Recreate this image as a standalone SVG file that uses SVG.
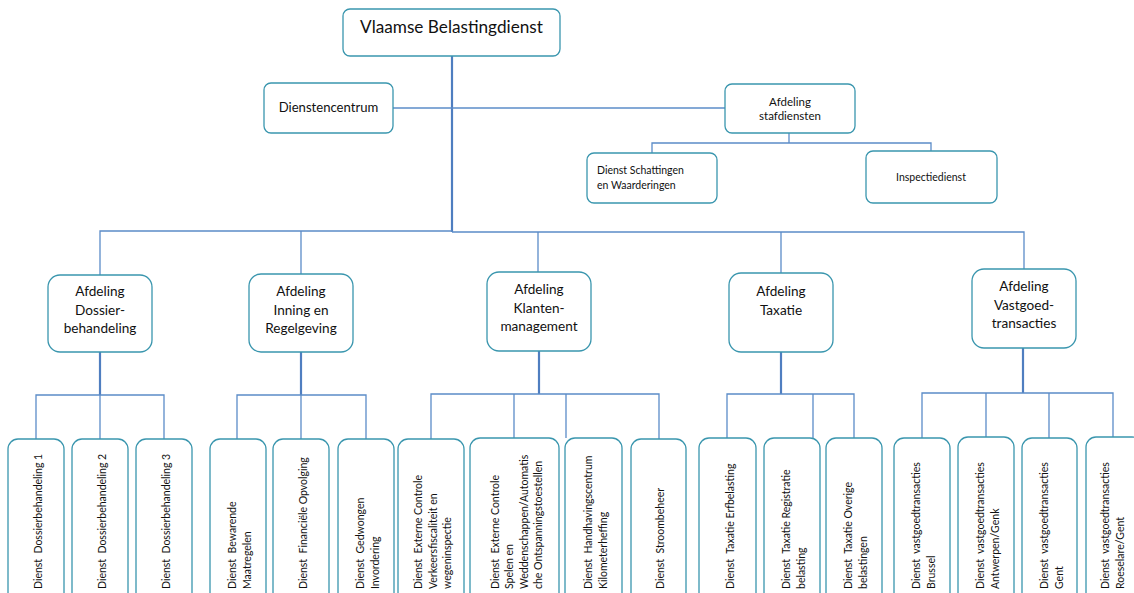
<svg xmlns="http://www.w3.org/2000/svg" width="1134" height="593" viewBox="0 0 1134 593">
<style>
.box{fill:#fff;stroke:#3a96ae;stroke-width:1.3}
.t{font-family:Lato,"Liberation Sans",sans-serif;fill:#111}
.c{text-anchor:middle}
.v{font-size:10.5px}
.cn{fill:none;stroke:#5b8cc8;stroke-width:1.3}
.tk{fill:none;stroke:#4f7ec0;stroke-width:2.2}
</style>
<rect width="1134" height="593" fill="#fff"/>
<g id="connectors">
<path class="tk" d="M452 56V232"/>
<path class="cn" d="M393 108H725"/>
<path class="cn" d="M789 133V143M652 153V143H931V151"/>
<path class="cn" d="M100 275V231H452M452 232H1024V269M301 231V274M538 232V272M781 232V273"/>
<path class="tk" d="M100 352V395M301 352V395M539 351V394M781 352V394M1023 348V393"/>
<path class="cn" d="M36 439V395H164V439M100 395V439"/>
<path class="cn" d="M237 439V395H366V439M301 395V439"/>
<path class="cn" d="M431 439V394H659V439M514 394V438M566 394V438"/>
<path class="cn" d="M727 438V394H854V438M813 394V438"/>
<path class="cn" d="M922 438V393H1113V437M986 393V437M1049 393V438"/>
</g>
<g id="n-vbd"><rect class="box" x="343" y="9" width="217" height="47" rx="7"/><text class="t c" x="451.5" y="33" font-size="17.2">Vlaamse Belastingdienst</text></g>
<g id="n-dc"><rect class="box" x="264" y="83" width="129" height="50" rx="7"/><text class="t c" x="328.5" y="112" font-size="13.1">Dienstencentrum</text></g>
<g id="n-staf"><rect class="box" x="725" y="84" width="130" height="49" rx="7"/><text class="t c" font-size="11.5"><tspan x="790" y="106">Afdeling</tspan><tspan x="790" y="120">stafdiensten</tspan></text></g>
<g id="n-schat"><rect class="box" x="587" y="153" width="130" height="50" rx="7"/><text class="t" font-size="10.5"><tspan x="597" y="174">Dienst Schattingen</tspan><tspan x="597" y="189">en Waarderingen</tspan></text></g>
<g id="n-insp"><rect class="box" x="866" y="151" width="131" height="52" rx="7"/><text class="t c" x="931" y="181" font-size="10.5">Inspectiedienst</text></g>
<g id="n-dos"><rect class="box" x="48" y="275" width="104" height="77" rx="12"/><text class="t c" font-size="13.6"><tspan x="100" y="296">Afdeling</tspan><tspan x="100" y="314.5">Dossier-</tspan><tspan x="100" y="333">behandeling</tspan></text></g>
<g id="n-inn"><rect class="box" x="249" y="274" width="104" height="78" rx="12"/><text class="t c" font-size="13.6"><tspan x="301" y="296">Afdeling</tspan><tspan x="301" y="314.5">Inning en</tspan><tspan x="301" y="333">Regelgeving</tspan></text></g>
<g id="n-kla"><rect class="box" x="487" y="272" width="104" height="79" rx="12"/><text class="t c" font-size="13.6"><tspan x="539" y="294">Afdeling</tspan><tspan x="539" y="312.5">Klanten-</tspan><tspan x="539" y="331">management</tspan></text></g>
<g id="n-tax"><rect class="box" x="729" y="273" width="104" height="79" rx="12"/><text class="t c" font-size="13.6"><tspan x="781" y="296">Afdeling</tspan><tspan x="781" y="314.5">Taxatie</tspan></text></g>
<g id="n-vas"><rect class="box" x="972" y="269" width="104" height="79" rx="12"/><text class="t c" font-size="13.6"><tspan x="1024" y="291">Afdeling</tspan><tspan x="1024" y="309.5">Vastgoed-</tspan><tspan x="1024" y="328">transacties</tspan></text></g>
<g id="n-d1"><rect class="box" x="8" y="439" width="56" height="200" rx="10"/><text class="t v" xml:space="preserve" transform="translate(41.5,589) rotate(-90)">Dienst  Dossierbehandeling 1</text></g>
<g id="n-d2"><rect class="box" x="72" y="439" width="56" height="200" rx="10"/><text class="t v" xml:space="preserve" transform="translate(105.5,589) rotate(-90)">Dienst  Dossierbehandeling 2</text></g>
<g id="n-d3"><rect class="box" x="136" y="439" width="56" height="200" rx="10"/><text class="t v" xml:space="preserve" transform="translate(169.5,589) rotate(-90)">Dienst  Dossierbehandeling 3</text></g>
<g id="n-i1"><rect class="box" x="210" y="439" width="56" height="200" rx="10"/><text class="t v" xml:space="preserve" transform="translate(236,589) rotate(-90)"><tspan x="0" y="0">Dienst  Bewarende</tspan><tspan x="0" dy="14.5">Maatregelen</tspan></text></g>
<g id="n-i2"><rect class="box" x="273" y="439" width="56" height="200" rx="10"/><text class="t v" xml:space="preserve" transform="translate(306.5,589) rotate(-90)">Dienst  Financiële Opvolging</text></g>
<g id="n-i3"><rect class="box" x="338" y="439" width="56" height="200" rx="10"/><text class="t v" xml:space="preserve" transform="translate(364,589) rotate(-90)"><tspan x="0" y="0">Dienst  Gedwongen</tspan><tspan x="0" dy="14.5">Invordering</tspan></text></g>
<g id="n-k1"><rect class="box" x="398" y="439" width="66" height="200" rx="10"/><text class="t v" xml:space="preserve" transform="translate(422,589) rotate(-90)"><tspan x="0" y="0">Dienst  Externe Controle</tspan><tspan x="0" dy="14.5">Verkeersfiscaliteit en</tspan><tspan x="0" dy="14.5">wegeninspectie</tspan></text></g>
<g id="n-k2"><rect class="box" x="470" y="438" width="89" height="200" rx="10"/><text class="t v" xml:space="preserve" transform="translate(498.5,589) rotate(-90)"><tspan x="0" y="0">Dienst  Externe Controle</tspan><tspan x="0" dy="14.5">Spelen en</tspan><tspan x="0" dy="14.5">Weddenschappen/Automatis</tspan><tspan x="0" dy="14.5">che Ontspanningstoestellen</tspan></text></g>
<g id="n-k3"><rect class="box" x="565" y="438" width="57" height="200" rx="10"/><text class="t v" xml:space="preserve" transform="translate(592,589) rotate(-90)"><tspan x="0" y="0">Dienst  Handhavingscentrum</tspan><tspan x="0" dy="14.5">Kilometerheffing</tspan></text></g>
<g id="n-k4"><rect class="box" x="631" y="439" width="55" height="200" rx="10"/><text class="t v" xml:space="preserve" transform="translate(664,589) rotate(-90)">Dienst  Stroombeheer</text></g>
<g id="n-t1"><rect class="box" x="699" y="438" width="57" height="200" rx="10"/><text class="t v" xml:space="preserve" transform="translate(734,589) rotate(-90)">Dienst  Taxatie Erfbelasting</text></g>
<g id="n-t2"><rect class="box" x="764" y="438" width="56" height="200" rx="10"/><text class="t v" xml:space="preserve" transform="translate(790,589) rotate(-90)"><tspan x="0" y="0">Dienst  Taxatie Registratie</tspan><tspan x="0" dy="14.5">belasting</tspan></text></g>
<g id="n-t3"><rect class="box" x="826" y="438" width="56" height="200" rx="10"/><text class="t v" xml:space="preserve" transform="translate(852,589) rotate(-90)"><tspan x="0" y="0">Dienst  Taxatie Overige</tspan><tspan x="0" dy="14.5">belastingen</tspan></text></g>
<g id="n-v1"><rect class="box" x="894" y="438" width="56" height="200" rx="10"/><text class="t v" xml:space="preserve" transform="translate(920,589) rotate(-90)"><tspan x="0" y="0">Dienst  vastgoedtransacties</tspan><tspan x="0" dy="14.5">Brussel</tspan></text></g>
<g id="n-v2"><rect class="box" x="958" y="437" width="56" height="200" rx="10"/><text class="t v" xml:space="preserve" transform="translate(984,589) rotate(-90)"><tspan x="0" y="0">Dienst  vastgoedtransacties</tspan><tspan x="0" dy="14.5">Antwerpen/Genk</tspan></text></g>
<g id="n-v3"><rect class="box" x="1022" y="438" width="55" height="200" rx="10"/><text class="t v" xml:space="preserve" transform="translate(1048,589) rotate(-90)"><tspan x="0" y="0">Dienst  vastgoedtransacties</tspan><tspan x="0" dy="14.5">Gent</tspan></text></g>
<g id="n-v4"><rect class="box" x="1086" y="437" width="56" height="200" rx="10"/><text class="t v" xml:space="preserve" transform="translate(1109,589) rotate(-90)"><tspan x="0" y="0">Dienst  vastgoedtransacties</tspan><tspan x="0" dy="14.5">Roeselare/Gent</tspan></text></g>
</svg>
